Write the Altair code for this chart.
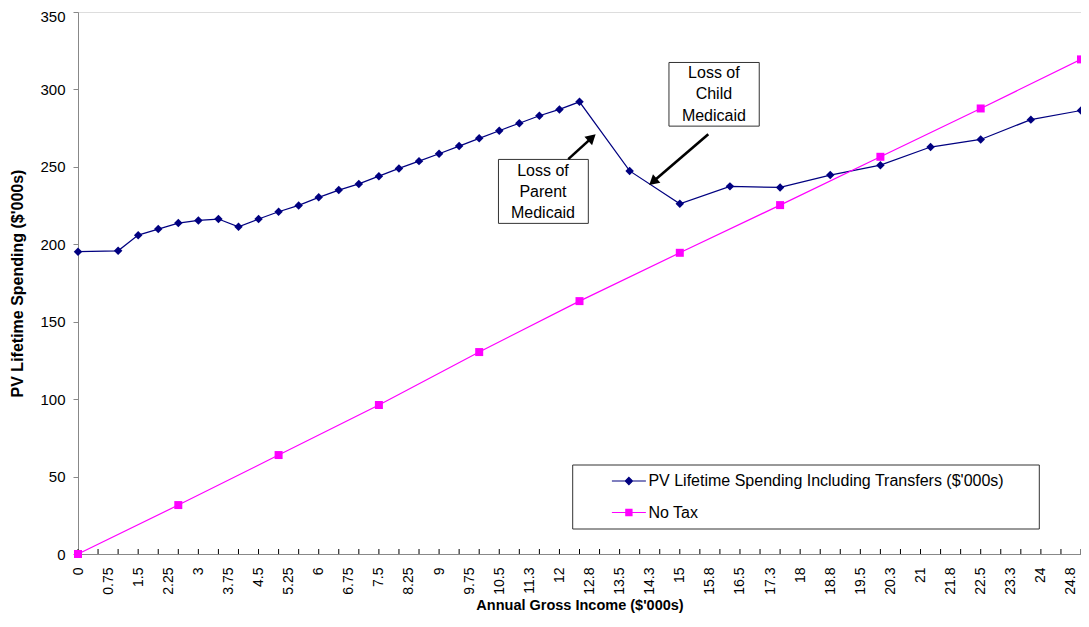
import altair as alt
import pandas as pd

# ---------------- data ----------------
series_names = ["PV Lifetime Spending Including Transfers ($'000s)", "No Tax"]

blue_x = [0, 1, 1.5, 2, 2.5, 3, 3.5, 4, 4.5, 5, 5.5, 6, 6.5, 7, 7.5, 8, 8.5, 9, 9.5,
          10, 10.5, 11, 11.5, 12, 12.5, 13.75, 15, 16.25, 17.5, 18.75, 20, 21.25, 22.5, 23.75, 25]
blue_y = [195.2, 195.8, 205.9, 209.8, 213.7, 215.4, 216.3, 211.3, 216.3, 221.0, 225.1, 230.3,
          235.0, 239.0, 244.0, 249.0, 253.7, 258.5, 263.4, 268.4, 273.3, 278.2, 283.0, 287.1,
          292.0, 247.4, 226.2, 237.4, 236.7, 244.7, 251.1, 262.8, 267.7, 280.5, 286.4]

pink_x = [0, 2.5, 5, 7.5, 10, 12.5, 15, 17.5, 20, 22.5, 25]
pink_y = [0, 31.6, 63.9, 96.2, 130.4, 163.3, 194.5, 225.3, 256.5, 287.7, 319.4]

x_tick_labels = ["0", "0.75", "1.5", "2.25", "3", "3.75", "4.5", "5.25", "6", "6.75", "7.5",
                 "8.25", "9", "9.75", "10.5", "11.3", "12", "12.8", "13.5", "14.3", "15", "15.8",
                 "16.5", "17.3", "18", "18.8", "19.5", "20.3", "21", "21.8", "22.5", "23.3", "24",
                 "24.8"]
x_label_step = 0.75
x_minor_step = 0.5
y_ticks = [0, 50, 100, 150, 200, 250, 300, 350]

# annotations (data coordinates)
note_text = ["Loss of", "Parent", "Medicaid", "Loss of", "Child", "Medicaid"]
note_x = [11.59, 11.59, 11.59, 15.85, 15.85, 15.85]
note_y = [247.3, 233.9, 220.3, 310.3, 296.8, 282.8]
box_x1 = [10.48, 14.73]
box_x2 = [12.72, 16.98]
box_y1 = [213.5, 276.3]
box_y2 = [254.8, 317.4]
arrow_x1 = [12.22, 15.71]
arrow_y1 = [255.0, 271.1]
arrow_x2 = [12.81, 14.33]
arrow_y2 = [268.9, 240.4]
arrow_angle = [48, 229.6]

NAVY = "#000080"
PINK = "#FF00FF"
FONT = "Liberation Sans"
PLOT_W, PLOT_H = 1003, 542

blue_df = pd.DataFrame({"x": blue_x, "y": blue_y})
pink_df = pd.DataFrame({"x": pink_x, "y": pink_y})
tick_df = pd.DataFrame({"x": [i * x_minor_step for i in range(int(25 / x_minor_step) + 1)]})
note_df = pd.DataFrame({"x": note_x, "y": note_y, "t": note_text})
box_df = pd.DataFrame({"x1": box_x1, "x2": box_x2, "y1": box_y1, "y2": box_y2})
arrow_df = pd.DataFrame({"x1": arrow_x1, "y1": arrow_y1, "x2": arrow_x2, "y2": arrow_y2,
                         "a": arrow_angle})
legend_df = pd.DataFrame({"series": series_names})
one_df = pd.DataFrame({"k": [0]})

xscale = alt.Scale(domain=[0, 25], nice=False, zero=False)
yscale = alt.Scale(domain=[0, 350], nice=False)

label_expr = ("[" + ",".join("'" + s + "'" for s in x_tick_labels) +
              "][round(datum.value/%s)]" % x_label_step)

x_axis = alt.Axis(values=[i * x_label_step for i in range(len(x_tick_labels))],
                  labelExpr=label_expr, labelAngle=270, labelOverlap=False, labelFlush=False,
                  labelBound=False, ticks=False, grid=False, labelPadding=13, labelFontSize=14,
                  title="Annual Gross Income ($'000s)", titleFontSize=14.5, titleFontWeight="bold",
                  titleY=55, titleBaseline="alphabetic")
y_axis = alt.Axis(values=y_ticks, tickSize=5, labelPadding=8, labelFontSize=15, grid=False,
                  labelOverlap=False,
                  labelOffset={"condition": {"test": "datum.value >= %d" % y_ticks[-1], "value": 4},
                               "value": 0},
                  title="PV Lifetime Spending ($'000s)", titleFontSize=16,
                  titleFontWeight="bold", titleX=-52.5, titleLimit=600)


def px(field):
    return alt.X(field, scale=xscale, axis=x_axis)


def py(field):
    return alt.Y(field, scale=yscale, axis=y_axis)


lbox = alt.Chart(one_df).mark_rect(fill="white", stroke="#333333", strokeWidth=1).encode(
    x=alt.value(494.7), x2=alt.value(961.3), y=alt.value(453), y2=alt.value(517))
boxes = alt.Chart(box_df).mark_rect(fill="white", stroke="#333333", strokeWidth=1).encode(
    x=px("x1:Q"), x2="x2:Q", y=py("y1:Q"), y2="y2:Q")
ticks = alt.Chart(tick_df).mark_rule(color="black", strokeWidth=1).encode(
    x=px("x:Q"), y=alt.value(PLOT_H - 5), y2=alt.value(PLOT_H))

blue_line = alt.Chart(blue_df).mark_line(color=NAVY, strokeWidth=1.2).encode(
    x=px("x:Q"), y=py("y:Q"))
blue_pts = alt.Chart(blue_df).mark_point(shape="diamond", filled=True, color=NAVY, size=72,
                                         opacity=1).encode(x=px("x:Q"), y=py("y:Q"))
pink_line = alt.Chart(pink_df).mark_line(color=PINK, strokeWidth=1.2).encode(
    x=px("x:Q"), y=py("y:Q"))
pink_pts = alt.Chart(pink_df).mark_point(shape="square", filled=True, color=PINK, size=64,
                                         opacity=1).encode(x=px("x:Q"), y=py("y:Q"))

arrow_lines = alt.Chart(arrow_df).mark_rule(color="black", strokeWidth=2.6).encode(
    x=px("x1:Q"), y=py("y1:Q"), x2="x2:Q", y2="y2:Q")
arrow_heads = alt.Chart(arrow_df).mark_point(shape="triangle-up", filled=True, color="black",
                                             size=130, opacity=1).encode(
    x=px("x2:Q"), y=py("y2:Q"), angle=alt.Angle("a:Q", scale=None))

notes = alt.Chart(note_df).mark_text(font=FONT, fontSize=16, color="black",
                                     baseline="middle", align="center").encode(
    x=px("x:Q"), y=py("y:Q"), text="t:N")

blue_sym = "M-1,0L1,0M0,-0.21L0.21,0L0,0.21L-0.21,0Z"
pink_sym = "M-1,0L1,0M-0.18,-0.18L0.18,-0.18L0.18,0.18L-0.18,0.18Z"


def leg():
    return alt.Legend(orient="none", legendX=532.9, legendY=451, title=None,
                      labelFontSize=16, labelFont=FONT, labelColor="black",
                      symbolSize=1156, symbolStrokeWidth=1.2, rowPadding=5.5, padding=0,
                      labelOffset=1.5, labelLimit=800)


legend_layer = alt.Chart(legend_df).transform_filter("false").mark_point(
    filled=True, opacity=1, size=1156).encode(
    shape=alt.Shape("series:N", scale=alt.Scale(domain=series_names, range=[blue_sym, pink_sym]),
                    legend=leg()),
    fill=alt.Fill("series:N", scale=alt.Scale(domain=series_names, range=[NAVY, PINK]),
                  legend=leg()),
    stroke=alt.Stroke("series:N", scale=alt.Scale(domain=series_names, range=[NAVY, PINK]),
                      legend=leg()),
)

chart = alt.layer(
    blue_line, lbox, boxes, ticks, blue_pts, pink_line, pink_pts,
    arrow_lines, arrow_heads, notes, legend_layer
).properties(
    width=PLOT_W, height=PLOT_H,
    autosize=alt.AutoSizeParams(type="none"),
    padding={"left": 70, "top": 4, "right": 0, "bottom": 59},
).configure_view(strokeWidth=0, stroke="transparent").configure_axis(
    grid=False, labelFont=FONT, titleFont=FONT, labelColor="black", titleColor="black",
    domainColor="black", tickColor="black", domainWidth=1
).configure(background="white")

chart.save("out.html", embed_options={"renderer": "svg", "actions": False})
